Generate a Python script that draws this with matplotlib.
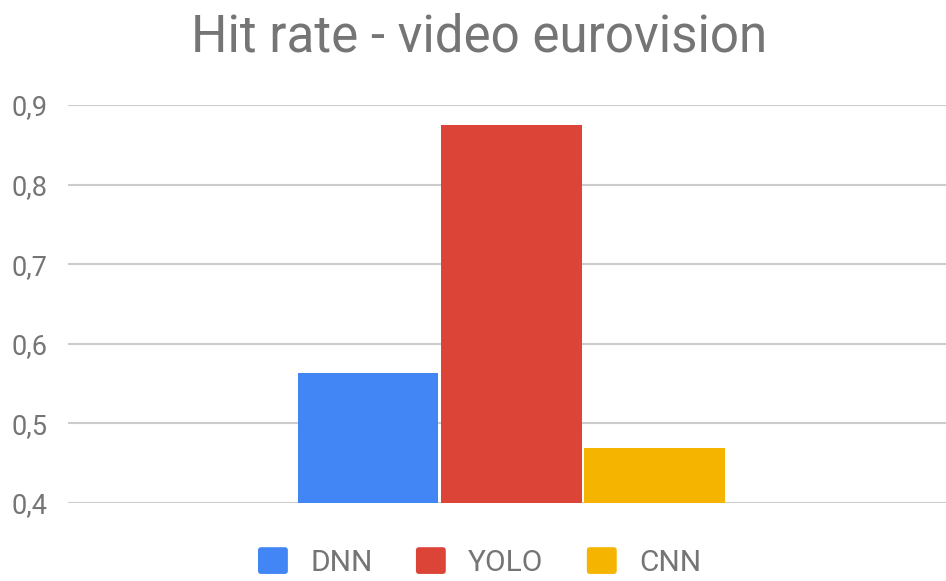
import matplotlib
matplotlib.use("Agg")
import matplotlib.pyplot as plt
from matplotlib.ticker import FuncFormatter
from matplotlib.patches import FancyBboxPatch
from matplotlib.legend_handler import HandlerPatch

# Hit rate per detector on the eurovision video
models = ["DNN", "YOLO", "CNN"]
hit_rate = [0.563, 0.875, 0.469]
colors = ["#4285F4", "#DB4437", "#F4B400"]
y_ticks = [0.4, 0.5, 0.6, 0.7, 0.8, 0.9]

plt.rcParams["font.family"] = ["Roboto", "DejaVu Sans"]
text_gray = "#757575"


class RoundedSquare(HandlerPatch):
    """Legend key drawn as a small rounded square."""

    def create_artists(self, legend, orig_handle, xdescent, ydescent,
                       width, height, fontsize, trans):
        r = 0.12 * height
        p = FancyBboxPatch((-xdescent + r, -ydescent + r), width - 2 * r, height - 2 * r,
                           boxstyle=f"round,pad={r}", facecolor=orig_handle.get_facecolor(),
                           edgecolor="none", transform=trans)
        return [p]


fig = plt.figure(figsize=(9.46, 5.81), dpi=100)
ax = fig.add_axes([0.0719, 0.1348, 0.9281, 0.6845])

x = [-1, 0, 1]
bars = []
for xi, v, c, name in zip(x, hit_rate, colors, models):
    b = ax.bar(xi, v - 0.4, bottom=0.4, width=0.98, color=c, label=name, zorder=3)
    bars.append(b)

ax.set_xlim(-3.09, 3.03)
ax.set_ylim(0.4, 0.9)
ax.set_yticks(y_ticks)
ax.yaxis.set_major_formatter(FuncFormatter(lambda v, p: f"{v:.1f}".replace(".", ",")))
ax.set_xticks([])
ax.grid(axis="y", color="#cccccc", linewidth=1.5, zorder=0)
for s in ax.spines.values():
    s.set_visible(False)
ax.tick_params(axis="y", length=0, pad=15, labelsize=19.5, labelcolor=text_gray)

fig.text(0.506, 1 - 52 / 581, "Hit rate - video eurovision", ha="center", va="baseline",
         fontsize=36.8, color=text_gray)

leg = fig.legend(handles=[b[0] for b in bars], labels=models, loc="center",
                 bbox_to_anchor=(0.507, 1 - 562 / 581), ncol=3, frameon=False,
                 fontsize=21.5, handlelength=1.0, handleheight=1.0,
                 handletextpad=0.75, columnspacing=1.45,
                 handler_map={type(bars[0][0]): RoundedSquare()})
for t in leg.get_texts():
    t.set_color(text_gray)

fig.savefig("out.png", dpi=100)
